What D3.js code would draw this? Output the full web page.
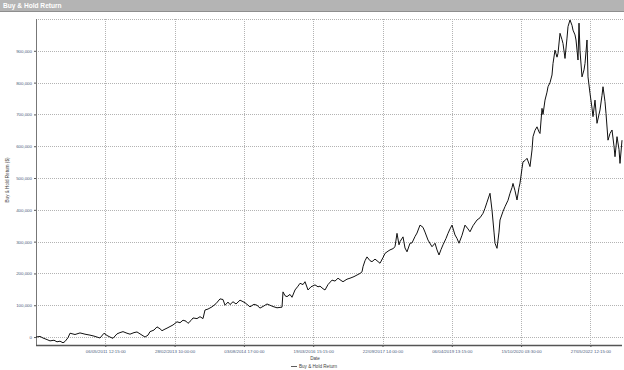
<!DOCTYPE html>
<html>
  <head>
    <title>Buy & Hold Return</title>
    <script src="https://cdn.jsdelivr.net/npm/d3@7"></script>
    <style>
      body { margin: 0; background: #fff; font-family: "Liberation Sans", Arial, sans-serif; }
      #chart .grid line { stroke: #b3b3b3; stroke-dasharray: 1,1; }
      #chart .tick text { fill: #4b5d7e; }
      #chart .line { fill: none; stroke: #111; stroke-width: 1; }
    </style>
  </head>
  <body>
    <svg id="chart" width="624" height="370"></svg>
  </body>
  <script>
    // [bar number, return in $]
    const points = [
      [0,0],[40,2000],[70,-3000],[110,-8000],[140,-12000],[180,-10000],[210,-15000],[240,-13000],
      [270,-18000],[290,-14000],[320,-2000],[340,12000],[390,8000],[440,13000],[490,9000],[540,6000],
      [580,3000],[610,0],[640,-3000],[680,12000],[710,5000],[740,0],[770,-4000],[810,10000],
      [840,14000],[870,17000],[910,12000],[940,9000],[980,14000],[1010,16000],[1050,8000],[1090,0],
      [1120,6000],[1140,17000],[1180,22000],[1210,32000],[1240,26000],[1260,20000],[1290,25000],[1310,28000],
      [1340,33000],[1370,38000],[1410,48000],[1440,45000],[1470,53000],[1500,50000],[1520,43000],[1550,52000],
      [1570,60000],[1610,58000],[1640,64000],[1670,58000],[1690,85000],[1720,88000],[1760,95000],[1800,105000],
      [1840,120000],[1870,118000],[1890,100000],[1920,110000],[1940,102000],[1970,111000],[2000,104000],[2040,116000],
      [2090,108000],[2140,95000],[2180,103000],[2210,100000],[2240,91000],[2280,98000],[2310,104000],[2340,100000],
      [2370,96000],[2410,92000],[2460,94000],[2470,142000],[2490,130000],[2510,127000],[2540,134000],[2560,125000],
      [2590,148000],[2620,160000],[2640,169000],[2670,165000],[2690,174000],[2720,148000],[2750,158000],[2790,164000],
      [2820,158000],[2840,160000],[2870,152000],[2890,148000],[2920,165000],[2960,179000],[2990,176000],[3020,185000],
      [3050,178000],[3070,174000],[3110,182000],[3140,185000],[3180,190000],[3210,195000],[3240,200000],[3260,205000],
      [3270,221000],[3290,240000],[3310,252000],[3340,240000],[3360,237000],[3390,245000],[3410,240000],[3440,232000],
      [3470,250000],[3490,263000],[3520,270000],[3540,274000],[3570,278000],[3590,284000],[3610,326000],[3630,290000],
      [3640,300000],[3670,315000],[3690,280000],[3710,268000],[3740,295000],[3760,296000],[3790,316000],[3810,327000],
      [3840,352000],[3870,345000],[3890,330000],[3920,305000],[3960,284000],[3990,295000],[4010,274000],[4030,258000],
      [4050,275000],[4070,290000],[4100,310000],[4120,326000],[4140,340000],[4160,352000],[4190,321000],[4210,310000],
      [4230,295000],[4260,320000],[4290,352000],[4320,340000],[4340,331000],[4370,350000],[4410,368000],[4440,375000],
      [4470,389000],[4490,405000],[4510,424000],[4540,452000],[4560,399000],[4580,330000],[4590,295000],[4610,279000],
      [4630,330000],[4640,368000],[4670,395000],[4690,410000],[4720,430000],[4740,452000],[4760,470000],[4770,483000],
      [4790,460000],[4810,431000],[4830,470000],[4840,484000],[4860,530000],[4870,551000],[4890,555000],[4910,562000],
      [4940,536000],[4960,588000],[4970,630000],[4990,650000],[5010,661000],[5030,645000],[5040,640000],[5060,719000],
      [5070,700000],[5090,745000],[5110,770000],[5120,787000],[5140,800000],[5160,824000],[5170,860000],[5190,902000],
      [5210,880000],[5220,892000],[5240,955000],[5260,935000],[5270,923000],[5290,876000],[5310,940000],[5320,976000],
      [5340,997000],[5360,980000],[5370,965000],[5390,950000],[5400,934000],[5420,871000],[5430,987000],[5440,900000],
      [5460,818000],[5480,840000],[5490,860000],[5510,934000],[5520,818000],[5540,766000],[5560,720000],[5570,693000],
      [5590,745000],[5610,672000],[5630,700000],[5640,714000],[5660,760000],[5670,787000],[5690,740000],[5700,703000],
      [5720,619000],[5740,640000],[5760,651000],[5780,600000],[5790,567000],[5810,630000],[5830,590000],[5840,546000],
      [5860,619000]
    ];

    const xTickBars = [693, 1386, 2079, 2772, 3465, 4158, 4851, 5544];
    const xTickLabels = [
      "06/05/2011 12:15:00", "28/02/2013 10:00:00", "03/08/2014 17:00:00", "19/03/2016 15:15:00",
      "22/09/2017 14:00:00", "06/04/2019 13:15:00", "15/10/2020 03:30:00", "27/05/2022 12:15:00"
    ];
    const yTicks = [0, 100000, 200000, 300000, 400000, 500000, 600000, 700000, 800000, 900000];

    const svg = d3.select('#chart');

    // title bar
    svg.append('rect').attr('x', 0).attr('y', 0).attr('width', 624).attr('height', 11).attr('fill', '#b4b4b4');
    svg.append('rect').attr('x', 0).attr('y', 11).attr('width', 624).attr('height', 1).attr('fill', '#8e8e8e');
    svg.append('text').attr('x', 3).attr('y', 8.3)
      .attr('fill', '#fff').attr('font-size', 6.6).attr('font-weight', 'bold')
      .text('Buy & Hold Return');

    const plotLeft = 36, plotRight = 622, plotTop = 19, plotBottom = 345;

    const xScale = d3.scaleLinear().domain([0, 5860]).range([plotLeft, plotRight]);
    const yScale = d3.scaleLinear().domain([-25000, 1000000]).range([plotBottom, plotTop]);

    // horizontal grid
    svg.append('g').attr('class', 'grid')
      .selectAll('line').data(yTicks.concat([1000000])).join('line')
      .attr('x1', plotLeft).attr('x2', 624)
      .attr('y1', d => Math.round(yScale(d)) + 0.5).attr('y2', d => Math.round(yScale(d)) + 0.5);

    // vertical grid
    svg.append('g').attr('class', 'grid')
      .selectAll('line').data(xTickBars).join('line')
      .attr('x1', d => Math.round(xScale(d)) + 0.5).attr('x2', d => Math.round(xScale(d)) + 0.5)
      .attr('y1', plotTop).attr('y2', plotBottom);

    // y axis
    const yAxis = svg.append('g')
      .attr('transform', `translate(${plotLeft},0)`)
      .call(d3.axisLeft(yScale).tickValues(yTicks).tickFormat(d3.format(',')).tickSize(2).tickPadding(2));
    yAxis.select('.domain').attr('stroke', '#777').attr('d', `M0.5,${plotTop}V${plotBottom}`);
    yAxis.selectAll('.tick line').attr('stroke', '#555');
    yAxis.selectAll('.tick text').attr('font-size', 4.4).attr('font-family', '"Liberation Sans", Arial, sans-serif');

    // x axis
    const xAxis = svg.append('g')
      .attr('transform', `translate(0,${plotBottom})`)
      .call(d3.axisBottom(xScale).tickValues(xTickBars)
        .tickFormat((d, i) => xTickLabels[i]).tickSize(2).tickPadding(3));
    xAxis.select('.domain').attr('stroke', '#555').attr('stroke-width', 1.6).attr('d', `M${plotLeft},0.5H${plotRight}`);
    xAxis.selectAll('.tick line').attr('stroke', '#555');
    xAxis.selectAll('.tick text').attr('font-size', 4.4).attr('font-family', '"Liberation Sans", Arial, sans-serif');

    // axis titles
    svg.append('text').attr('x', 315).attr('y', 360).attr('text-anchor', 'middle')
      .attr('font-size', 4.6).attr('fill', '#444').text('Date');
    svg.append('text').attr('transform', 'translate(9,180) rotate(-90)').attr('text-anchor', 'middle')
      .attr('font-size', 4.6).attr('fill', '#444').text('Buy & Hold Return ($)');

    // legend
    svg.append('line').attr('x1', 291).attr('x2', 297).attr('y1', 366.5).attr('y2', 366.5)
      .attr('stroke', '#333').attr('stroke-width', 0.8);
    svg.append('text').attr('x', 299).attr('y', 368).attr('font-size', 4.6).attr('fill', '#444')
      .text('Buy & Hold Return');

    // series
    const valueLine = d3.line()
      .x(d => xScale(d[0]))
      .y(d => yScale(d[1]));

    svg.append('path')
      .datum(points)
      .attr('class', 'line')
      .attr('d', valueLine);
  </script>
</html>
